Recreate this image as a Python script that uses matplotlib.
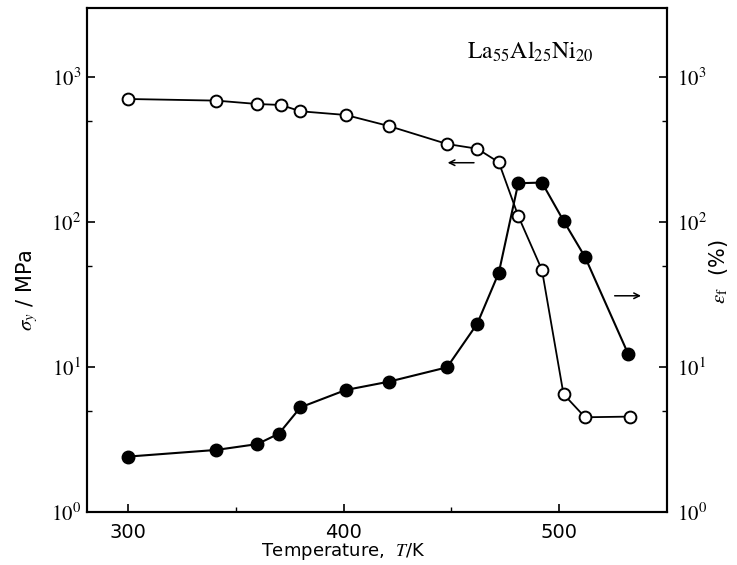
import math
import matplotlib
matplotlib.use("Agg")
import matplotlib.pyplot as plt
from matplotlib.ticker import FixedLocator, LogLocator, FuncFormatter, NullFormatter

plt.rcParams["mathtext.fontset"] = "stix"

# open circles: yield stress sigma_y (MPa), left axis
T_sigma = [300, 341, 360, 371, 380, 401, 421, 448, 462, 472, 481, 492, 502, 512, 533]
sigma_y = [705, 687, 651, 641, 580, 547, 459, 345, 320, 258, 110, 46.7, 6.5, 4.5, 4.55]

# filled circles: elongation to failure eps_f (%), right axis
T_eps = [300, 341, 360, 370, 380, 401, 421, 448, 462, 472, 481, 492, 502, 512, 532]
eps_f = [2.41, 2.68, 2.94, 3.47, 5.27, 6.94, 7.92, 9.95, 19.9, 44.7, 185, 187, 102, 57.3, 12.3]

x_ticks = [300, 400, 500]
x_minor = [350, 450]
alloy = r"$\mathrm{La_{55}Al_{25}Ni_{20}}$"


def decade_label(v, pos):
    return r"$\mathrm{10^{%d}}$" % round(math.log10(v))


fig = plt.figure(figsize=(7.37, 5.65), dpi=100)
ax = fig.add_axes([87 / 737, 53 / 565, 580 / 737, 504 / 565])
ax2 = ax.twinx()

for a in (ax, ax2):
    a.set_yscale("log")
    a.set_ylim(1, 2990)
    a.set_xlim(281, 550)
    a.yaxis.set_major_locator(LogLocator(base=10, numticks=10))
    a.yaxis.set_minor_locator(LogLocator(base=10, subs=[5], numticks=10))
    a.yaxis.set_major_formatter(FuncFormatter(decade_label))
    a.yaxis.set_minor_formatter(NullFormatter())
    for s in a.spines.values():
        s.set_linewidth(1.5)

ax.xaxis.set_major_locator(FixedLocator(x_ticks))
ax.xaxis.set_minor_locator(FixedLocator(x_minor))
ax.tick_params(axis="both", which="major", direction="in", length=6, width=1.2, top=False)
ax.tick_params(axis="both", which="minor", direction="in", length=3.5, width=1.0, top=False)
ax.tick_params(axis="x", pad=8, labelsize=14)
ax.tick_params(axis="y", labelsize=15, pad=4, right=False)
ax2.tick_params(axis="y", which="major", direction="in", length=6, width=1.2,
                labelsize=15, pad=7)
ax2.tick_params(axis="y", which="minor", direction="in", length=3.5, width=1.0)
for lbl in ax.get_xticklabels():
    lbl.set_fontweight("medium")

ax.plot(T_sigma, sigma_y, "-o", color="black", mfc="white", mec="black",
        ms=8.5, mew=1.4, lw=1.3, zorder=3)
ax2.plot(T_eps, eps_f, "-o", color="black", mfc="black", mec="black",
         ms=9, lw=1.5, zorder=3)

ax.annotate("", xy=(0.617, 0.693), xytext=(0.672, 0.693), xycoords="axes fraction",
            arrowprops=dict(arrowstyle="->", color="black", lw=1.1))
ax.annotate("", xy=(0.960, 0.429), xytext=(0.905, 0.429), xycoords="axes fraction",
            arrowprops=dict(arrowstyle="->", color="black", lw=1.1))
ax.text(0.764, 0.913, alloy, transform=ax.transAxes, ha="center", va="center", fontsize=17)

fig.text(27 / 737, 1 - 290 / 565, r"$\sigma_y$ / MPa", rotation=90, ha="center",
         va="center", fontsize=15)
fig.text(718 / 737, 1 - 272 / 565, r"$\epsilon_{\rm f}$  (%)", rotation=90, ha="center",
         va="center", fontsize=15)
fig.text(343 / 737, 3 / 565, r"Temperature,  $T$/K", ha="center", va="bottom",
         fontsize=13)

fig.savefig("out.png", dpi=100)
